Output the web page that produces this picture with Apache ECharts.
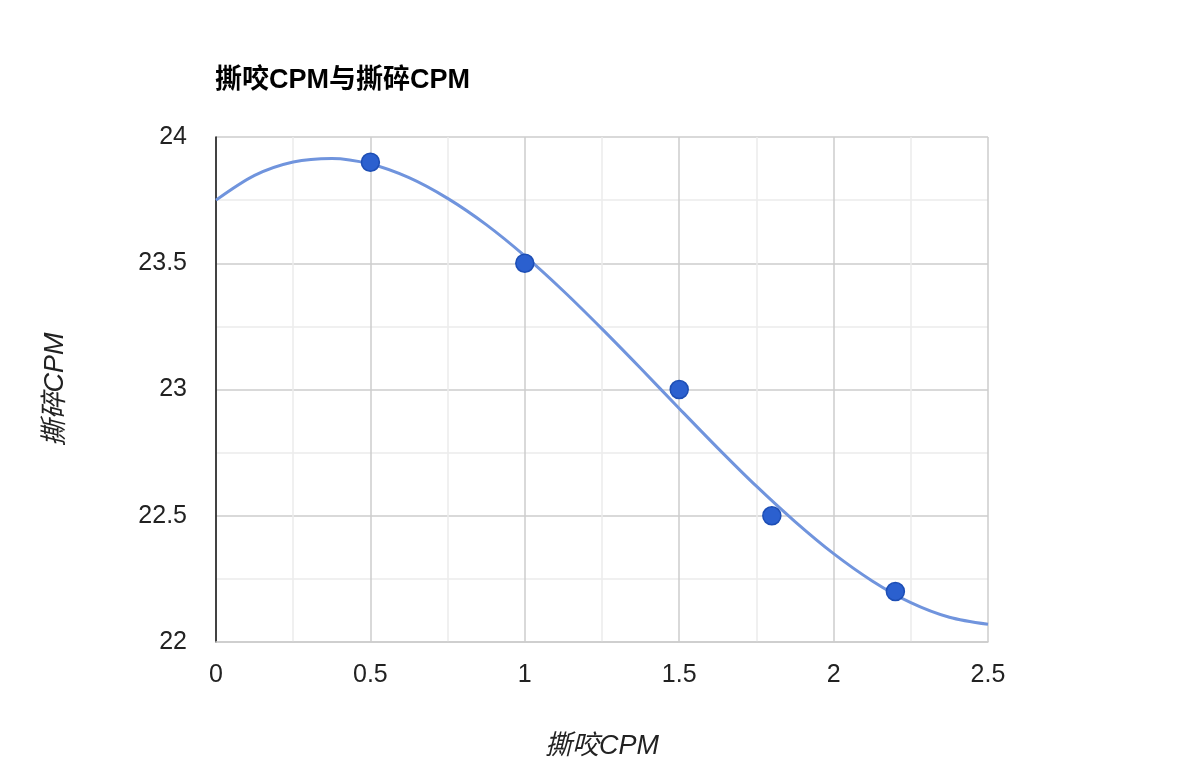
<!DOCTYPE html>
<html>
<head>
<meta charset="utf-8">
<script src="https://cdn.jsdelivr.net/npm/echarts@6/dist/echarts.min.js"></script>
<style>
html,body{margin:0;padding:0;background:#fff;}
#c{width:1190px;height:776px;}
</style>
</head>
<body>
<div id="c"></div>
<script>
// Data
const titleText = '撕咬CPM与撕碎CPM';
const xName = '撕咬CPM';
const yName = '撕碎CPM';
const pointX = [0.5, 1, 1.5, 1.8, 2.2];
const pointY = [23.9, 23.5, 23.0, 22.5, 22.2];
// Trendline
const trendX = [0, 0.125, 0.25, 0.375, 0.5, 0.625, 0.75, 0.875, 1, 1.125, 1.25, 1.375, 1.5, 1.625, 1.75, 1.875, 2, 2.125, 2.25, 2.375, 2.5];
const trendY = [23.750, 23.848, 23.901, 23.915, 23.893, 23.839, 23.757, 23.653, 23.529, 23.390, 23.240, 23.084, 22.925, 22.768, 22.617, 22.477, 22.350, 22.242, 22.156, 22.098, 22.070];

const FONT = "'Liberation Sans', Arial, 'Noto Sans CJK SC', sans-serif";
const chart = echarts.init(document.getElementById('c'), null, {renderer: 'canvas'});

const points = pointX.map((x, i) => [x, pointY[i]]);
const trend = trendX.map((x, i) => [x, trendY[i]]);

chart.setOption({
  animation: false,
  backgroundColor: '#fff',
  title: {
    text: titleText,
    left: 210,
    top: 62,
    textStyle: {fontFamily: FONT, fontWeight: 'bold', fontSize: 27, color: '#000'}
  },
  grid: {left: 216, right: 202, top: 137, bottom: 134, containLabel: false},
  xAxis: {
    type: 'value',
    min: 0, max: 2.5, interval: 0.5,
    name: xName,
    nameLocation: 'middle',
    nameGap: 91,
    nameTextStyle: {fontFamily: FONT, fontStyle: 'italic', fontSize: 27, color: '#222'},
    axisLine: {show: true, onZero: false, lineStyle: {color: '#cccccc', width: 1.5}},
    axisTick: {show: false},
    axisLabel: {fontFamily: FONT, fontSize: 25, color: '#222', margin: 21},
    splitLine: {show: true, lineStyle: {color: '#cccccc', width: 1.5}},
    minorTick: {show: false, splitNumber: 2},
    minorSplitLine: {show: true, lineStyle: {color: '#ebebeb', width: 1.5}}
  },
  yAxis: {
    type: 'value',
    min: 22, max: 24, interval: 0.5,
    name: yName,
    nameLocation: 'middle',
    nameGap: 147,
    nameRotate: 90,
    nameTextStyle: {fontFamily: FONT, fontStyle: 'italic', fontSize: 27, color: '#222'},
    axisLine: {show: true, onZero: false, lineStyle: {color: '#111', width: 1.5}},
    axisTick: {show: false},
    axisLabel: {fontFamily: FONT, fontSize: 25, color: '#222', margin: 29},
    splitLine: {show: true, lineStyle: {color: '#cccccc', width: 1.5}},
    minorTick: {show: false, splitNumber: 2},
    minorSplitLine: {show: true, lineStyle: {color: '#ebebeb', width: 1.5}}
  },
  series: [
    {
      type: 'line',
      data: trend,
      smooth: 0.3,
      showSymbol: false,
      symbol: 'none',
      lineStyle: {color: '#7094dd', width: 3},
      z: 2,
      silent: true
    },
    {
      type: 'scatter',
      data: points,
      symbolSize: 18,
      itemStyle: {color: '#2b60cf', borderColor: '#1d4eb5', borderWidth: 1.5, opacity: 1},
      z: 3
    }
  ]
});
</script>
</body>
</html>
